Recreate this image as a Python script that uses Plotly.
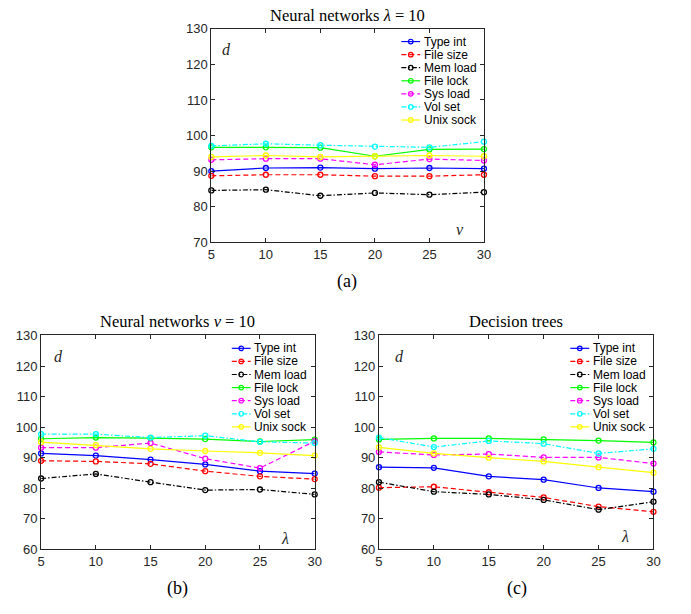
import plotly.graph_objects as go

# ---------------- data ----------------
x_vals = [5, 10, 15, 20, 25, 30]
series_names = ["Type int", "File size", "Mem load", "File lock", "Sys load", "Vol set", "Unix sock"]

# (a) Neural networks, lambda = 10, x = nu
a_type_int = [90.0, 90.9, 91.0, 90.7, 90.9, 90.7]
a_file_size = [88.7, 89.0, 89.0, 88.6, 88.6, 89.0]
a_mem_load = [84.6, 84.8, 83.1, 83.9, 83.4, 84.1]
a_file_lock = [96.7, 96.7, 96.6, 94.2, 96.1, 96.2]
a_sys_load = [93.2, 93.5, 93.5, 91.8, 93.4, 93.0]
a_vol_set = [97.1, 97.7, 97.3, 96.9, 96.7, 98.3]
a_unix_sock = [94.0, 94.4, 94.0, 94.2, 94.4, 94.2]

# (b) Neural networks, nu = 10, x = lambda
b_type_int = [91.4, 90.7, 89.4, 87.8, 85.6, 84.8]
b_file_size = [89.0, 88.8, 88.0, 85.6, 83.9, 83.0]
b_mem_load = [83.2, 84.7, 82.0, 79.4, 79.6, 78.0]
b_file_lock = [96.2, 96.6, 96.4, 96.1, 95.3, 95.9]
b_sys_load = [93.3, 93.3, 94.8, 89.7, 86.6, 95.4]
b_vol_set = [97.7, 97.7, 96.6, 97.2, 95.2, 94.8]
b_unix_sock = [95.1, 94.1, 92.9, 92.2, 91.6, 90.7]

# (c) Decision trees, x = lambda
c_type_int = [86.9, 86.7, 83.9, 82.8, 80.1, 78.9]
c_file_size = [80.2, 80.5, 78.7, 77.0, 74.0, 72.3]
c_mem_load = [82.0, 78.9, 78.0, 76.2, 73.0, 75.6]
c_file_lock = [96.0, 96.3, 96.3, 96.0, 95.6, 95.0]
c_sys_load = [91.9, 90.9, 91.2, 90.1, 90.1, 88.1]
c_vol_set = [96.6, 93.5, 95.5, 94.6, 91.4, 92.9]
c_unix_sock = [93.4, 91.4, 90.0, 88.8, 86.9, 85.1]

x_ticks = [5, 10, 15, 20, 25, 30]
y_ticks_a = [70, 80, 90, 100, 110, 120, 130]
y_ticks_bc = [60, 70, 80, 90, 100, 110, 120, 130]

# ---------------- styles ----------------
colors = ["#0000ff", "#ff0000", "#000000", "#00ff00", "#ff00ff", "#00ffff", "#ffff00"]
dashes = ["solid", "5px,3px", "5px,2px,1.5px,2px", "solid", "5px,3px", "5px,2px,1.5px,2px", "solid"]

panels = [
    dict(xa="x", ya="y", data=[a_type_int, a_file_size, a_mem_load, a_file_lock, a_sys_load, a_vol_set, a_unix_sock],
         title="Neural networks <i>λ</i> = 10", xlab="<i>ν</i>", lab="(a)",
         dpos=(0.055, 0.905), xlpos=(0.912, 0.062)),
    dict(xa="x2", ya="y2", data=[b_type_int, b_file_size, b_mem_load, b_file_lock, b_sys_load, b_vol_set, b_unix_sock],
         title="Neural networks <i>ν</i> = 10", xlab="<i>λ</i>", lab="(b)",
         dpos=(0.062, 0.904), xlpos=(0.89, 0.053)),
    dict(xa="x3", ya="y3", data=[c_type_int, c_file_size, c_mem_load, c_file_lock, c_sys_load, c_vol_set, c_unix_sock],
         title="Decision trees", xlab="<i>λ</i>", lab="(c)",
         dpos=(0.074, 0.904), xlpos=(0.895, 0.059)),
]

fig = go.Figure()
AX = "#262626"
SANS = "Liberation Sans, Arial, sans-serif"
SERIF = "Liberation Serif, Times New Roman, serif"

for p in panels:
    for name, ys, col, dsh in zip(series_names, p["data"], colors, dashes):
        fig.add_trace(go.Scatter(
            x=x_vals, y=ys, name=name, mode="lines+markers",
            line=dict(color=col, width=1.2, dash=dsh),
            marker=dict(symbol="circle-open", size=5, color=col, line=dict(width=1.3, color=col)),
            xaxis=p["xa"], yaxis=p["ya"], showlegend=False, cliponaxis=False))

annotations = []
shapes = []
leg_x0, leg_x1, leg_tx = 0.697, 0.766, 0.772
leg_top, leg_step = 0.94, 0.0612
for p in panels:
    xr = p["xa"] + " domain"
    yr = p["ya"] + " domain"
    # title
    annotations.append(dict(text=p["title"], xref=xr, yref=yr, x=0.5, y=1.0, xanchor="center",
                            yanchor="bottom", yshift=2, showarrow=False,
                            font=dict(family=SERIF, size=16.5, color="#000000")))
    # inside labels
    annotations.append(dict(text="<i>d</i>", xref=xr, yref=yr, x=p["dpos"][0], y=p["dpos"][1],
                            xanchor="center", yanchor="middle", showarrow=False,
                            font=dict(family=SERIF, size=16, color=AX)))
    annotations.append(dict(text=p["xlab"], xref=xr, yref=yr, x=p["xlpos"][0], y=p["xlpos"][1],
                            xanchor="center", yanchor="middle", showarrow=False,
                            font=dict(family=SERIF, size=16, color=AX)))
    # legend
    for i, (name, col, dsh) in enumerate(zip(series_names, colors, dashes)):
        yy = leg_top - i * leg_step
        shapes.append(dict(type="line", xref=xr, yref=yr, x0=leg_x0, x1=leg_x1, y0=yy, y1=yy,
                           line=dict(color=col, width=1.2, dash=dsh)))
        shapes.append(dict(type="circle", xref=xr, yref=yr, xsizemode="pixel", ysizemode="pixel",
                           xanchor=(leg_x0 + leg_x1) / 2, yanchor=yy, x0=-2.3, x1=2.3, y0=-2.3, y1=2.3,
                           line=dict(color=col, width=1.2), fillcolor="rgba(0,0,0,0)"))
        annotations.append(dict(text=name, xref=xr, yref=yr, x=leg_tx, y=yy, xanchor="left",
                                yanchor="middle", showarrow=False,
                                font=dict(family=SANS, size=12, color="#000000")))

# panel labels
annotations.append(dict(text="(a)", xref="paper", yref="paper", x=0.505, y=1 - 281 / 614,
                        xanchor="center", yanchor="middle", showarrow=False,
                        font=dict(family=SERIF, size=18, color="#000000")))
annotations.append(dict(text="(b)", xref="paper", yref="paper", x=0.255, y=1 - 596 / 614,
                        xanchor="center", yanchor="middle", showarrow=False,
                        font=dict(family=SERIF, size=18, color="#000000")))
annotations.append(dict(text="(c)", xref="paper", yref="paper", x=0.754, y=1 - 596 / 614,
                        xanchor="center", yanchor="middle", showarrow=False,
                        font=dict(family=SERIF, size=18, color="#000000")))

axis_common = dict(showline=True, linecolor=AX, linewidth=1, mirror="ticks", ticks="inside",
                   ticklen=4, tickcolor=AX, tickwidth=1, showgrid=False, zeroline=False,
                   tickfont=dict(family=SANS, size=13, color=AX))

fig.update_layout(
    width=691, height=614, margin=dict(l=0, r=0, t=0, b=0),
    paper_bgcolor="white", plot_bgcolor="white", showlegend=False,
    xaxis=dict(domain=[0.3049, 0.7058], range=[5, 30], tickvals=x_ticks, anchor="y", **axis_common),
    yaxis=dict(domain=[0.6070, 0.9637], range=[70, 130], tickvals=y_ticks_a, anchor="x", **axis_common),
    xaxis2=dict(domain=[0.0546, 0.4569], range=[5, 30], tickvals=x_ticks, anchor="y2", **axis_common),
    yaxis2=dict(domain=[0.0945, 0.4516], range=[60, 130], tickvals=y_ticks_bc, anchor="x2", **axis_common),
    xaxis3=dict(domain=[0.5514, 0.9551], range=[5, 30], tickvals=x_ticks, anchor="y3", **axis_common),
    yaxis3=dict(domain=[0.0945, 0.4516], range=[60, 130], tickvals=y_ticks_bc, anchor="x3", **axis_common),
    annotations=annotations, shapes=shapes,
)

fig.write_html("out.html", config={"displayModeBar": False, "staticPlot": True},
               post_script="document.body.style.margin='0';document.body.style.overflow='hidden';")
